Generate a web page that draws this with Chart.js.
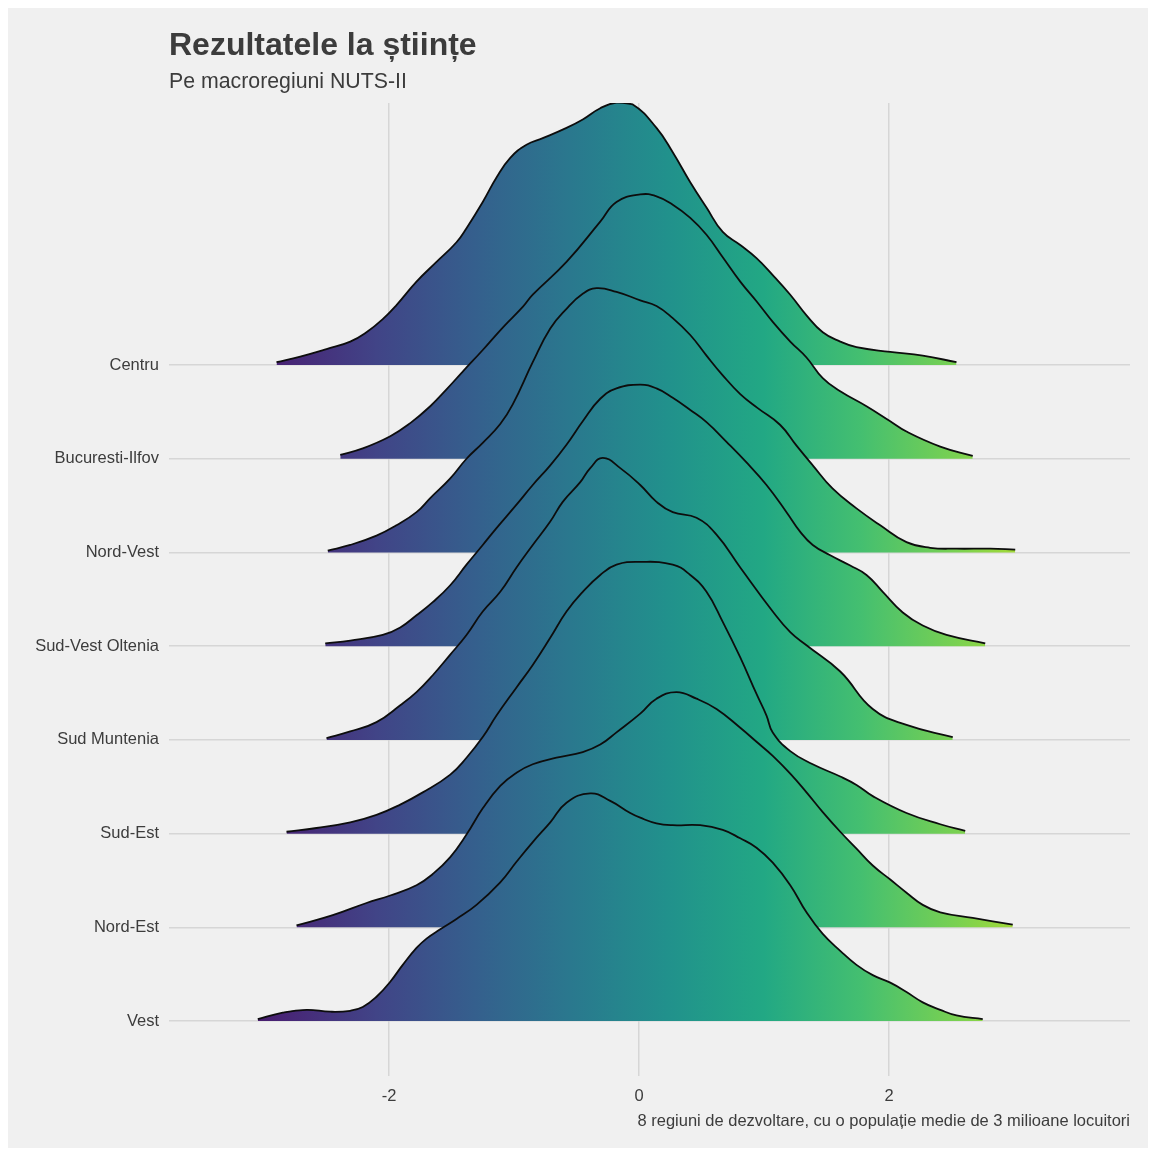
<!DOCTYPE html>
<html>
<head>
<meta charset="utf-8">
<title>Rezultatele la științe</title>
<script src="https://cdn.jsdelivr.net/npm/chart.js@4.4.1/dist/chart.umd.min.js"></script>
<style>
  html, body { margin: 0; padding: 0; background: #ffffff; }
  #wrap { position: absolute; left: 8px; top: 8px; width: 1140px; height: 1140px; background: #f0f0f0; }
  canvas { display: block; }
</style>
</head>
<body>
<div id="wrap"><canvas id="ridges" width="1140" height="1140"></canvas></div>
<script>
// Regions, bottom row first
const regions = ['Vest', 'Nord-Est', 'Sud-Est', 'Sud Muntenia', 'Sud-Vest Oltenia', 'Nord-Vest', 'Bucuresti-Ilfov', 'Centru'];
const xTicks = [-2, 0, 2];

// Density curves: x positions (score) and ridge heights (in row units)
const xVest = [-3.05,-2.85,-2.66,-2.47,-2.31,-2.21,-2.10,-1.99,-1.89,-1.78,-1.70,-1.59,-1.46,-1.30,-1.11,-0.98,-0.85,-0.71,-0.58,-0.39,-0.23,-0.07,0.01,0.14,0.27,0.49,0.67,0.81,0.94,1.07,1.21,1.34,1.47,1.61,1.74,1.87,2.01,2.14,2.27,2.41,2.54,2.75];
const hVest = [0.02,0.09,0.12,0.10,0.11,0.15,0.26,0.42,0.60,0.78,0.88,0.98,1.09,1.24,1.48,1.70,1.91,2.12,2.33,2.43,2.35,2.22,2.17,2.11,2.09,2.09,2.04,1.95,1.85,1.69,1.45,1.16,0.93,0.75,0.60,0.49,0.41,0.31,0.20,0.12,0.06,0.02];

const xNordEst = [-2.74,-2.45,-2.18,-1.99,-1.78,-1.65,-1.51,-1.38,-1.25,-1.11,-0.98,-0.85,-0.66,-0.45,-0.31,-0.18,0.01,0.14,0.30,0.46,0.62,0.81,0.94,1.07,1.21,1.34,1.47,1.61,1.74,1.87,2.01,2.14,2.27,2.41,2.67,2.99];
const hNordEst = [0.02,0.13,0.26,0.34,0.45,0.57,0.75,0.99,1.27,1.51,1.65,1.74,1.81,1.87,1.95,2.08,2.28,2.44,2.51,2.44,2.33,2.13,1.98,1.83,1.64,1.44,1.23,1.02,0.84,0.66,0.51,0.37,0.24,0.16,0.10,0.03];

const xSudEst = [-2.82,-2.58,-2.31,-2.10,-1.91,-1.73,-1.51,-1.38,-1.25,-1.14,-0.98,-0.85,-0.71,-0.58,-0.45,-0.31,-0.18,0.01,0.27,0.41,0.54,0.67,0.81,0.94,1.02,1.07,1.21,1.39,1.61,1.74,1.87,2.14,2.41,2.61];
const hSudEst = [0.02,0.06,0.12,0.20,0.31,0.44,0.63,0.81,1.03,1.26,1.56,1.80,2.09,2.37,2.58,2.76,2.87,2.90,2.87,2.76,2.58,2.26,1.88,1.49,1.26,1.08,0.88,0.74,0.61,0.52,0.40,0.22,0.10,0.03];

const xSudMuntenia = [-2.50,-2.31,-2.10,-1.91,-1.78,-1.65,-1.51,-1.38,-1.25,-1.11,-0.98,-0.85,-0.71,-0.61,-0.47,-0.39,-0.29,-0.15,0.01,0.14,0.27,0.46,0.62,0.81,1.07,1.21,1.34,1.61,1.87,2.14,2.51];
const hSudMuntenia = [0.02,0.09,0.19,0.37,0.51,0.69,0.91,1.12,1.37,1.58,1.84,2.08,2.33,2.54,2.75,2.90,3.01,2.90,2.72,2.54,2.43,2.37,2.19,1.84,1.37,1.15,1.01,0.73,0.33,0.16,0.03];

const xSudVestOltenia = [-2.51,-2.31,-2.05,-1.91,-1.78,-1.65,-1.51,-1.38,-1.25,-1.14,-0.98,-0.85,-0.71,-0.58,-0.45,-0.31,-0.18,0.01,0.14,0.27,0.41,0.54,0.70,0.86,1.02,1.18,1.29,1.39,1.53,1.69,1.82,1.95,2.11,2.27,2.46,2.77];
const hSudVestOltenia = [0.03,0.06,0.12,0.20,0.33,0.47,0.65,0.87,1.08,1.26,1.51,1.72,1.93,2.15,2.40,2.64,2.75,2.79,2.75,2.65,2.52,2.39,2.18,1.96,1.72,1.43,1.22,1.08,0.97,0.86,0.76,0.58,0.36,0.22,0.12,0.03];

const xNordVest = [-2.49,-2.31,-2.10,-1.94,-1.78,-1.67,-1.51,-1.38,-1.25,-1.11,-1.01,-0.85,-0.71,-0.58,-0.45,-0.34,-0.18,0.01,0.14,0.27,0.41,0.54,0.67,0.81,0.95,1.13,1.26,1.39,1.55,1.74,1.93,2.14,2.33,2.54,2.81,3.01];
const hNordVest = [0.02,0.08,0.18,0.29,0.43,0.58,0.79,1.00,1.17,1.37,1.58,2.03,2.39,2.60,2.76,2.82,2.78,2.69,2.63,2.50,2.32,2.10,1.89,1.69,1.54,1.36,1.14,0.93,0.68,0.47,0.29,0.11,0.05,0.04,0.04,0.03];

const xBucuresti = [-2.39,-2.21,-1.99,-1.83,-1.67,-1.54,-1.41,-1.25,-1.09,-0.93,-0.85,-0.58,-0.31,-0.18,0.01,0.14,0.27,0.41,0.54,0.67,0.81,0.94,1.07,1.21,1.34,1.47,1.61,1.82,2.01,2.14,2.41,2.67];
const hBucuresti = [0.04,0.11,0.24,0.38,0.56,0.74,0.93,1.16,1.40,1.62,1.75,2.10,2.53,2.74,2.82,2.80,2.71,2.57,2.39,2.15,1.89,1.68,1.46,1.25,1.08,0.86,0.72,0.56,0.40,0.29,0.13,0.03];

const xCentru = [-2.90,-2.71,-2.50,-2.31,-2.18,-2.05,-1.94,-1.78,-1.62,-1.46,-1.38,-1.25,-1.14,-1.03,-0.90,-0.77,-0.58,-0.45,-0.31,-0.18,-0.05,0.14,0.27,0.41,0.54,0.67,0.81,0.94,1.07,1.21,1.34,1.47,1.61,1.74,2.01,2.27,2.54];
const hCentru = [0.03,0.09,0.17,0.25,0.35,0.49,0.64,0.89,1.10,1.31,1.46,1.74,2.00,2.21,2.35,2.42,2.53,2.62,2.74,2.80,2.78,2.53,2.27,1.95,1.68,1.42,1.28,1.14,0.96,0.75,0.53,0.35,0.25,0.19,0.14,0.10,0.03];

const ridgeX = [xVest, xNordEst, xSudEst, xSudMuntenia, xSudVestOltenia, xNordVest, xBucuresti, xCentru];
const ridgeH = [hVest, hNordEst, hSudEst, hSudMuntenia, hSudVestOltenia, hNordVest, hBucuresti, hCentru];

// Viridis palette, spread across the fill range of the score axis
const viridis = ['#440154', '#482475', '#414487', '#355f8d', '#2a788e', '#21918c', '#22a884', '#44bf70', '#7ad151', '#bddf26', '#fde725'];
const fillRange = [-3.65, 4.1];

const FONT = "'Liberation Sans', Arial, Helvetica, sans-serif";
const TEXT = '#3c3c3c';
const GRID = '#d6d6d6';

let gradCache = null;
function ridgeFill(context) {
  const chart = context.chart;
  const { ctx, chartArea, scales } = chart;
  if (!chartArea || !scales.x) return 'rgba(0,0,0,0)';
  const x0 = scales.x.getPixelForValue(fillRange[0]);
  const x1 = scales.x.getPixelForValue(fillRange[1]);
  const key = x0 + ':' + x1;
  if (!gradCache || gradCache.key !== key) {
    const g = ctx.createLinearGradient(x0, 0, x1, 0);
    viridis.forEach((c, i) => g.addColorStop(i / (viridis.length - 1), c));
    gradCache = { key, g };
  }
  return gradCache.g;
}

// Lower rows are drawn last so they sit in front of the rows above
const datasets = regions.map((name, i) => ({
  label: name,
  data: ridgeX[i].map((x, k) => ({ x: x, y: i + 1 + ridgeH[i][k] })),
  fill: { target: { value: i + 1 } },
  backgroundColor: ridgeFill,
  borderColor: '#0d0d0d',
  borderWidth: 1.8,
  pointRadius: 0,
  pointHoverRadius: 0,
  tension: 0.45,
  order: i
}));

new Chart(document.getElementById('ridges'), {
  type: 'line',
  data: { datasets },
  options: {
    responsive: false,
    animation: false,
    events: [],
    layout: { padding: { top: 19, bottom: 17, left: 0, right: 18 } },
    plugins: {
      legend: { display: false },
      tooltip: { enabled: false },
      title: {
        display: true,
        text: 'Rezultatele la științe',
        align: 'start',
        fullSize: false,
        color: TEXT,
        font: { family: FONT, size: 32, weight: 'bold', lineHeight: 1.2 },
        padding: { top: 0, bottom: 4 }
      },
      subtitle: {
        display: true,
        text: 'Pe macroregiuni NUTS-II',
        align: 'start',
        fullSize: false,
        color: TEXT,
        font: { family: FONT, size: 21.3, weight: 'normal', lineHeight: 1.2 },
        padding: { top: 0, bottom: 8 }
      }
    },
    scales: {
      x: {
        type: 'linear',
        min: -3.76,
        max: 3.928,
        afterBuildTicks: (s) => { s.ticks = xTicks.map(v => ({ value: v })); },
        afterFit: (s) => { s.height = 54.9; },
        grid: { color: GRID, lineWidth: 1.5, drawTicks: false },
        border: { display: false },
        ticks: { color: TEXT, font: { family: FONT, size: 16.5 }, padding: 10, maxRotation: 0, autoSkip: false },
        title: {
          display: true,
          text: '8 regiuni de dezvoltare, cu o populație medie de 3 milioane locuitori',
          align: 'end',
          color: TEXT,
          font: { family: FONT, size: 16.5, lineHeight: 1.2 },
          padding: { top: 0, bottom: 0 }
        }
      },
      y: {
        type: 'linear',
        min: 0.413,
        max: 10.796,
        afterBuildTicks: (s) => { s.ticks = regions.map((_, i) => ({ value: i + 1 })); },
        afterFit: (s) => { s.width = 161; },
        grid: { color: GRID, lineWidth: 1.5, drawTicks: false },
        border: { display: false },
        ticks: {
          color: TEXT,
          font: { family: FONT, size: 16.5 },
          padding: 10,
          autoSkip: false,
          callback: (v) => regions[Math.round(v) - 1]
        }
      }
    }
  }
});
</script>
</body>
</html>
